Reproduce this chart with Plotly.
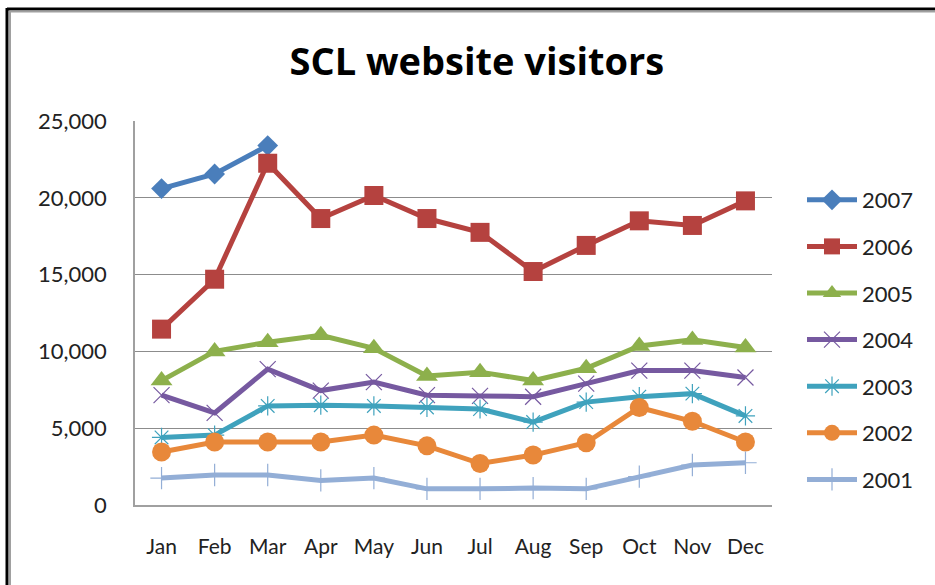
import plotly.graph_objects as go

months = ["Jan", "Feb", "Mar", "Apr", "May", "Jun", "Jul", "Aug", "Sep", "Oct", "Nov", "Dec"]

v2007 = [20600, 21550, 23400, None, None, None, None, None, None, None, None, None]
v2006 = [11450, 14700, 22250, 18650, 20150, 18650, 17750, 15200, 16900, 18500, 18200, 19800]
v2005 = [8100, 10000, 10600, 11050, 10200, 8400, 8650, 8100, 8900, 10350, 10750, 10250]
v2004 = [7150, 6000, 8850, 7450, 8000, 7150, 7100, 7050, 7900, 8750, 8750, 8300]
v2003 = [4400, 4550, 6450, 6500, 6450, 6350, 6250, 5400, 6700, 7050, 7250, 5800]
v2002 = [3450, 4100, 4100, 4100, 4550, 3850, 2700, 3250, 4050, 6350, 5450, 4100]
v2001 = [1750, 1950, 1950, 1600, 1750, 1050, 1050, 1100, 1050, 1850, 2600, 2750]

y_ticks = [0, 5000, 10000, 15000, 20000, 25000]
y_tick_labels = ["0", "5,000", "10,000", "15,000", "20,000", "25,000"]

series = [
    ("2007", v2007, "#4A7EBB", "diamond", 16, 0),
    ("2006", v2006, "#B5423F", "square", 19, 0),
    ("2005", v2005, "#8DB04C", "triangle-up", 19, 0),
    ("2004", v2004, "#7659A0", "x-thin-open", 16, 1.2),
    ("2003", v2003, "#3FA2BD", "asterisk-open", 16, 1.2),
    ("2002", v2002, "#E8883A", "circle", 19, 0),
    ("2001", v2001, "#93AED6", "cross-thin-open", 16, 1.2),
]

fig = go.Figure()
for name, vals, color, sym, size, mlw in series:
    fig.add_trace(go.Scatter(
        x=months, y=vals, name=name, mode="lines+markers",
        line=dict(color=color, width=5),
        marker=dict(symbol=sym, size=size, color=color,
                    line=dict(color=color, width=mlw)),
        legendgroup=name,
        connectgaps=False,
    ))

L, R, T, B = 135, 163, 121, 80
W, H = 935, 585
pw, ph = W - L - R, H - T - B

def px_to_paper_x(px):
    return (px - L) / pw

def px_to_paper_y(py):
    return (H - B - py) / ph

font_family = "Lato, 'Open Sans', sans-serif"

fig.update_layout(
    width=W, height=H,
    margin=dict(l=L, r=R, t=T, b=B),
    paper_bgcolor="white", plot_bgcolor="white",
    title=dict(text="<b>SCL website visitors</b>", x=0.51, xanchor="center",
               y=1 - 62 / H, yanchor="middle",
               font=dict(family="'Open Sans', Lato, sans-serif", size=38, color="black")),
    font=dict(family=font_family, size=21, color="#222222"),
    showlegend=True,
    legend=dict(x=px_to_paper_x(802), xanchor="left",
                y=px_to_paper_y(179), yanchor="top",
                font=dict(size=22, color="#222222"),
                tracegroupgap=15, itemwidth=50, itemsizing="trace",
                bgcolor="rgba(0,0,0,0)"),
    xaxis=dict(showgrid=False, showline=True, linecolor="#A0A0A0", linewidth=1.5,
               ticks="outside", ticklen=22, tickcolor="rgba(0,0,0,0)",
               tickfont=dict(size=21), range=[-0.5, 11.5], fixedrange=True),
    yaxis=dict(range=[0, 25000], tickvals=y_ticks, ticktext=y_tick_labels,
               showgrid=True, gridcolor="#8C8C8C", gridwidth=1,
               showline=True, linecolor="#A0A0A0", linewidth=1.5,
               zeroline=False,
               ticks="outside", ticklen=22, tickcolor="rgba(0,0,0,0)",
               tickfont=dict(size=22)),
    shapes=[
        dict(type="line", xref="paper", yref="paper",
             x0=px_to_paper_x(7), x1=px_to_paper_x(940),
             y0=px_to_paper_y(9), y1=px_to_paper_y(9),
             line=dict(color="black", width=3)),
        dict(type="line", xref="paper", yref="paper",
             x0=px_to_paper_x(7), x1=px_to_paper_x(7),
             y0=px_to_paper_y(8), y1=px_to_paper_y(600),
             line=dict(color="black", width=3)),
        dict(type="line", xref="paper", yref="paper",
             x0=px_to_paper_x(10), x1=px_to_paper_x(940),
             y0=px_to_paper_y(11.5), y1=px_to_paper_y(11.5),
             line=dict(color="#A0A0A0", width=2)),
        dict(type="line", xref="paper", yref="paper",
             x0=px_to_paper_x(10), x1=px_to_paper_x(10),
             y0=px_to_paper_y(11), y1=px_to_paper_y(600),
             line=dict(color="#A0A0A0", width=2)),
    ],
)

fig.write_html("out.html",
               config={"displayModeBar": False},
               post_script="document.body.style.margin='0';document.body.style.overflow='hidden';")
